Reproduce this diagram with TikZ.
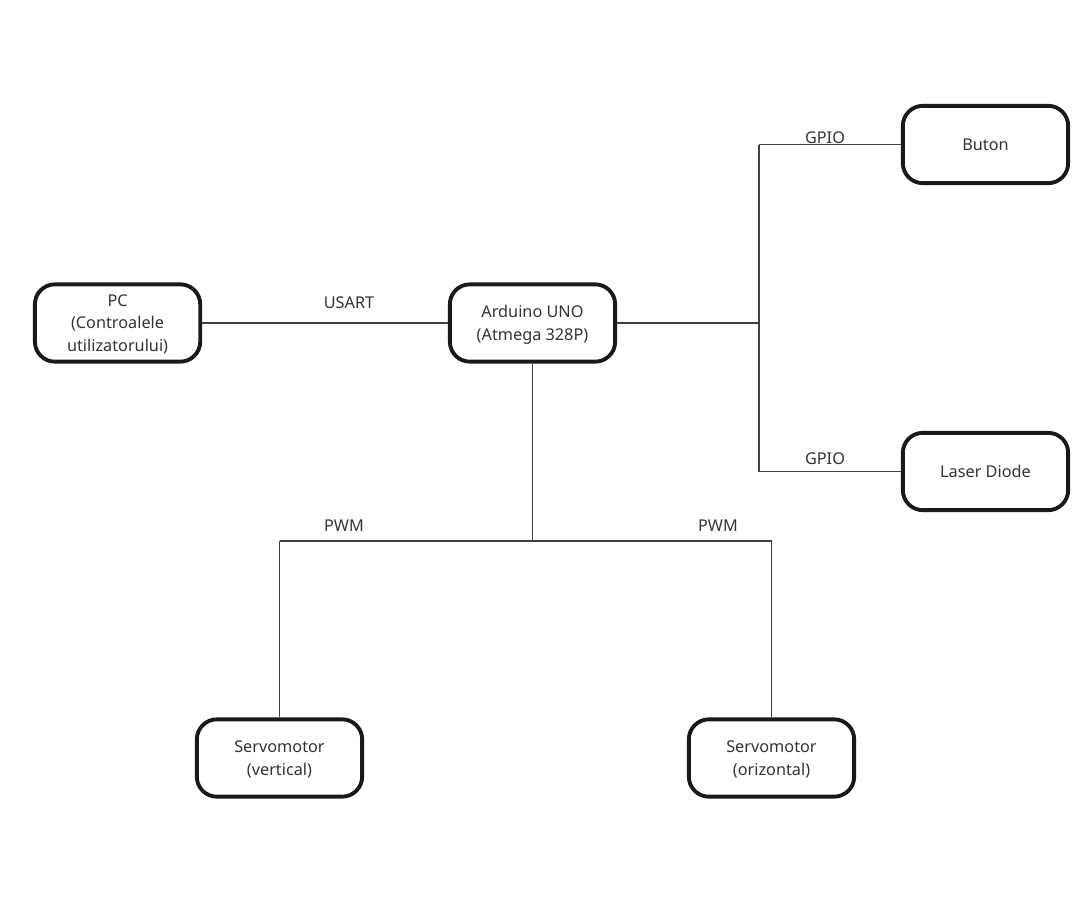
\documentclass[tikz,border=0pt]{standalone}
\usepackage{fontspec}
\setmainfont{Noto Sans}
\usepackage{tikz}
\usetikzlibrary{positioning}

\begin{document}
\begin{tikzpicture}
		[x=0.75pt, y=-0.75pt, line width=0.95pt, draw=black!75,
		block/.style={rectangle, draw=black!90, line width=2.9pt, rounded corners=15pt, minimum width=124pt, minimum height=58pt, align=center, inner sep=0pt, text=black!80, text depth=-3.5pt, font=\fontsize{12.2}{17}\selectfont},
		oneline/.style={block, text depth=-3pt},
		busname/.style={inner sep=0pt, text=black!80, font=\fontsize{12.2}{17}\selectfont}]
		\useasboundingbox (0,0) rectangle (1089,917);
		\node[block] (arduino) at (532.5,323) {Arduino UNO\\(Atmega 328P)};
		\node[block, left=184.3pt of arduino] (pc) {PC\\(Controalele\\utilizatorului)};
		\node[oneline] (buton) at (985.5,144.5) {Buton};
		\node[oneline] (laser) at (985.5,471.5) {Laser Diode};
		\node[block] (servov) at (279.5,758) {Servomotor\\(vertical)};
		\node[block] (servoo) at (771.5,758) {Servomotor\\(orizontal)};
		\coordinate (jright) at (759,323);
		\coordinate (jbuton) at (759,144.5);
		\coordinate (jlaser) at (759,471.5);
		\coordinate (jdown) at (532.5,541);
		\coordinate (jservov) at (279.5,541);
		\coordinate (jservoo) at (771.5,541);
		\draw (pc) -- (arduino);
		\draw (arduino) -- (jright);
		\draw (jbuton) -- (jlaser);
		\draw (jbuton) -- (buton);
		\draw (jlaser) -- (laser);
		\draw (arduino) -- (jdown);
		\draw (jservov) -- (jservoo);
		\draw (jservov) -- (servov);
		\draw (jservoo) -- (servoo);
		\node[busname] (usart) at (349,303) {USART};
		\node[busname] (gpio1) at (825,138) {GPIO};
		\node[busname] (gpio2) at (825,459) {GPIO};
		\node[busname] (pwm1) at (344,526) {PWM};
		\node[busname] (pwm2) at (718,526) {PWM};
	\end{tikzpicture}
\end{document}
